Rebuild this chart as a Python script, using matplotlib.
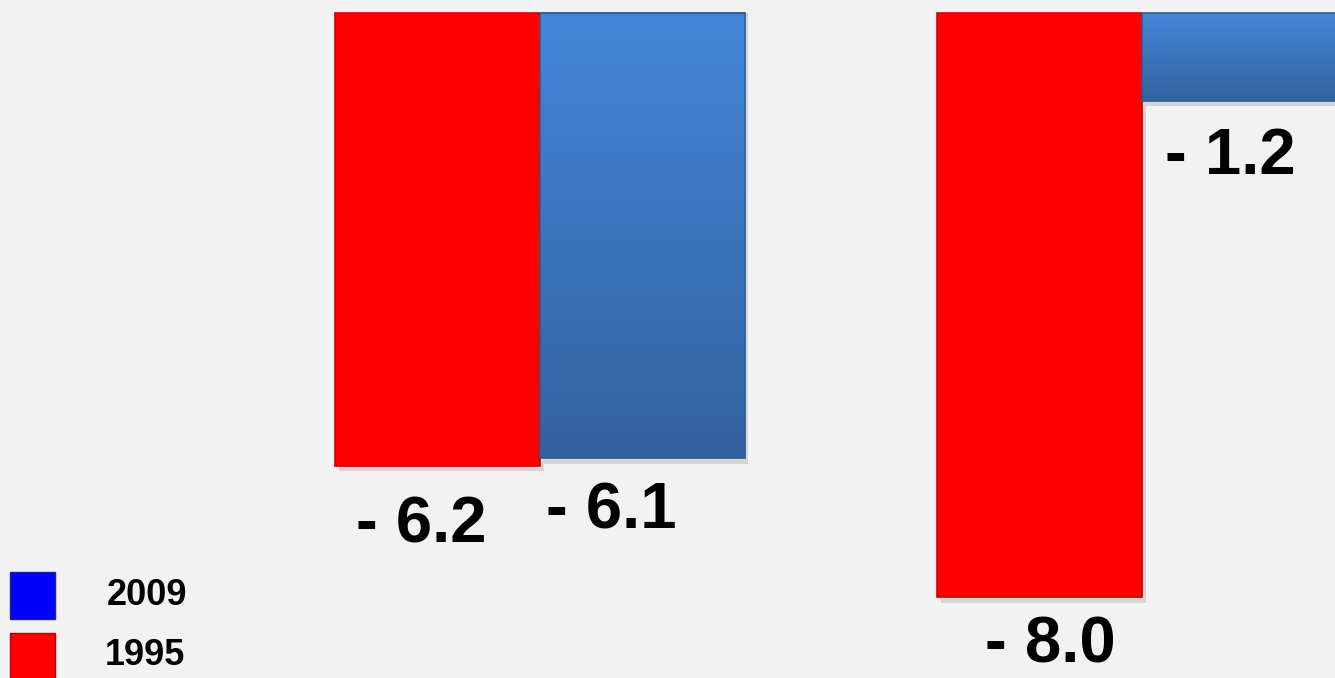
import numpy as np
import matplotlib
matplotlib.use("Agg")
import matplotlib.pyplot as plt
from matplotlib.patches import Rectangle
from matplotlib.colors import LinearSegmentedColormap

plt.rcParams['font.family'] = ['Liberation Sans', 'DejaVu Sans']

groups = [0, 1]
values_1995 = [-6.2, -8.0]
values_2009 = [-6.1, -1.2]
labels_1995 = ["- 6.2", "- 8.0"]
labels_2009 = ["- 6.1", "- 1.2"]
legend_names = ["2009", "1995"]

# hand placed label nudges (x in group units, y below bar end)
dx_1995 = [-0.028, 0.017]
dy_1995 = [1.05, 0.90]
dx_2009 = [-0.051, -0.023]
dy_2009 = [0.96, 1.01]

bg = "#f2f2f2"
red = "#ff0000"
blue_cmap = LinearSegmentedColormap.from_list("bl", ["#4487d9", "#3462a0"])

fig = plt.figure(figsize=(13.35, 6.78), dpi=100, facecolor=bg)
ax = fig.add_axes([0, 0, 1, 1])
ax.set_facecolor(bg)

w = 0.34
x = np.array(groups)
xr = x - w / 2
xb = x + w / 2

# shadows
for xi, v in zip(xr, values_1995):
    ax.add_patch(Rectangle((xi - w / 2 + 0.006, 0), w, v - 0.08, color="#000000", alpha=0.12, lw=0, zorder=1))
for xi, v in zip(xb, values_2009):
    ax.add_patch(Rectangle((xi - w / 2 + 0.006, 0), w, v - 0.08, color="#000000", alpha=0.12, lw=0, zorder=1))

ax.bar(xr, values_1995, width=w, color=red, edgecolor="#d00000", linewidth=1.2, zorder=3)
ax.bar(xb, values_2009, width=w, color="none", edgecolor="#2f5a92", linewidth=1.2, zorder=4)

grad = np.linspace(0, 1, 256).reshape(-1, 1)
for xi, v in zip(xb, values_2009):
    ax.imshow(grad, cmap=blue_cmap, aspect="auto", extent=(xi - w / 2, xi + w / 2, v, 0),
              origin="upper", zorder=3, interpolation="bicubic")

ax.set_xlim(-0.897, 1.3206)
ax.set_ylim(-9.11, 0.178)
ax.axis("off")

for xi, v, t, ddx, ddy in zip(xr, values_1995, labels_1995, dx_1995, dy_1995):
    ax.text(xi + ddx, v - ddy, t, ha="center", va="baseline", fontsize=47, fontweight="bold")
for xi, v, t, ddx, ddy in zip(xb, values_2009, labels_2009, dx_2009, dy_2009):
    ax.text(xi + ddx, v - ddy, t, ha="center", va="baseline", fontsize=47, fontweight="bold")

# legend
fig.patches.append(Rectangle((10 / 1335, 1 - 619 / 678), 45 / 1335, 47 / 678, transform=fig.transFigure,
                             facecolor="#0000ff", edgecolor="#2020a0", lw=1))
fig.patches.append(Rectangle((10 / 1335, 1 - 680 / 678), 45 / 1335, 47 / 678, transform=fig.transFigure,
                             facecolor="#ff0000", edgecolor="#c00000", lw=1))
fig.text(147 / 1335, 1 - 605 / 678, legend_names[0], ha="center", va="baseline", fontsize=26, fontweight="bold")
fig.text(145 / 1335, 1 - 665 / 678, legend_names[1], ha="center", va="baseline", fontsize=26, fontweight="bold")

fig.savefig("out.png", dpi=100, facecolor=bg)
